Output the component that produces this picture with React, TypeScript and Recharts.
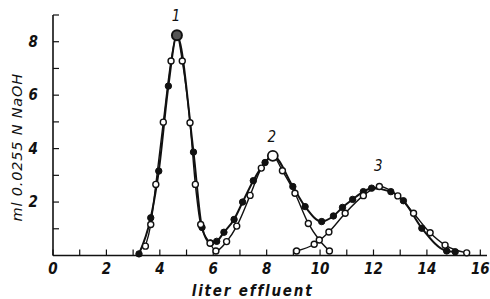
import { LineChart, Line, XAxis, YAxis } from 'recharts';

// liters of effluent vs ml 0.0255 N NaOH
const xTicks = [0, 1, 2, 3, 4, 5, 6, 7, 8, 9, 10, 11, 12, 13, 14, 15, 16];
const yTicks = [1, 2, 3, 4, 5, 6, 7, 8, 9];

// filled circles: measured elution curve
const filledRun = [
  { x: 3.22, y: 0.06 }, { x: 3.66, y: 1.41 }, { x: 3.96, y: 3.16 }, { x: 4.32, y: 6.34 },
  { x: 4.64, y: 8.24 }, { x: 5.26, y: 3.87 }, { x: 5.58, y: 1.05 }, { x: 5.9, y: 0.47 },
  { x: 6.13, y: 0.53 }, { x: 6.4, y: 0.87 }, { x: 6.78, y: 1.35 }, { x: 7.1, y: 2.0 },
  { x: 7.5, y: 2.8 }, { x: 7.94, y: 3.48 }, { x: 8.23, y: 3.73 }, { x: 8.98, y: 2.58 },
  { x: 9.44, y: 1.83 }, { x: 10.06, y: 1.27 }, { x: 10.5, y: 1.48 }, { x: 10.84, y: 1.8 },
  { x: 11.22, y: 2.1 }, { x: 11.62, y: 2.39 }, { x: 11.93, y: 2.52 }, { x: 12.65, y: 2.39 },
  { x: 13.12, y: 2.05 }, { x: 13.81, y: 1.02 }, { x: 14.74, y: 0.17 }, { x: 15.06, y: 0.14 },
];

// open circles: peaks 1 and 2
const openRun = [
  { x: 3.46, y: 0.35 }, { x: 3.66, y: 1.16 }, { x: 3.85, y: 2.66 }, { x: 4.13, y: 4.99 },
  { x: 4.42, y: 7.28 }, { x: 4.64, y: 8.24 }, { x: 4.84, y: 7.28 }, { x: 5.13, y: 4.97 },
  { x: 5.33, y: 2.66 }, { x: 5.53, y: 1.16 }, { x: 5.88, y: 0.46 }, { x: 6.1, y: 0.17 },
  { x: 6.5, y: 0.52 }, { x: 6.88, y: 1.1 }, { x: 7.38, y: 2.25 }, { x: 7.8, y: 3.27 },
  { x: 8.23, y: 3.73 }, { x: 8.59, y: 3.17 }, { x: 9.06, y: 2.33 }, { x: 9.56, y: 1.2 },
  { x: 9.97, y: 0.58 }, { x: 10.35, y: 0.17 },
];

// open circles: peak 3
const openPeak3 = [
  { x: 9.12, y: 0.17 }, { x: 9.78, y: 0.42 }, { x: 10.33, y: 0.88 }, { x: 10.94, y: 1.58 },
  { x: 11.62, y: 2.24 }, { x: 12.22, y: 2.58 }, { x: 12.91, y: 2.23 }, { x: 13.5, y: 1.58 },
  { x: 14.12, y: 0.85 }, { x: 14.68, y: 0.39 }, { x: 15.49, y: 0.1 },
];

const peakNames = ['1', '2', '3'];

const font = "'DejaVu Sans Condensed', 'DejaVu Sans', sans-serif";
const labelFont = "'DejaVu Sans', sans-serif";
const ink = '#111';

function peakIndex(data: { x: number; y: number }[], fromX = -Infinity) {
  let best = -1;
  data.forEach((d, i) => {
    if (d.x >= fromX && (best < 0 || d.y > data[best].y)) best = i;
  });
  return best;
}

const filledPeak = peakIndex(filledRun);
const openPeak2 = peakIndex(openRun, 7);
const openPeak1 = peakIndex(openRun);
const peak3 = peakIndex(openPeak3);

function peakLabel(cx: number, cy: number, text: string) {
  return (
    <text x={cx - 1} y={cy - 14} textAnchor="middle" fontFamily={font} fontStyle="italic" fontSize={15} fill={ink}>
      {text}
    </text>
  );
}

function FilledDot(props: any) {
  const { cx, cy, index } = props;
  if (index === filledPeak) {
    return (
      <g key={`f${index}`}>
        <circle cx={cx} cy={cy} r={5} fill="#555" stroke={ink} strokeWidth={2} />
        {peakLabel(cx, cy, peakNames[0])}
      </g>
    );
  }
  return <circle key={`f${index}`} cx={cx} cy={cy} r={3.2} fill={ink} stroke={ink} strokeWidth={1} />;
}

function OpenDot(props: any) {
  const { cx, cy, index } = props;
  if (index === openPeak1) return <g key={`o${index}`} />;
  if (index === openPeak2) {
    return (
      <g key={`o${index}`}>
        <circle cx={cx} cy={cy} r={5} fill="#fff" stroke={ink} strokeWidth={1.8} />
        {peakLabel(cx, cy, peakNames[1])}
      </g>
    );
  }
  return <circle key={`o${index}`} cx={cx} cy={cy} r={3} fill="#fff" stroke={ink} strokeWidth={1.4} />;
}

function Peak3Dot(props: any) {
  const { cx, cy, index } = props;
  return (
    <g key={`p${index}`}>
      <circle cx={cx} cy={cy} r={3} fill="#fff" stroke={ink} strokeWidth={1.4} />
      {index === peak3 ? peakLabel(cx, cy - 2, peakNames[2]) : null}
    </g>
  );
}

const tickStyle = { fill: ink, fontSize: 15, fontStyle: 'italic', fontWeight: 'bold', fontFamily: font };

export default function App() {
  return (
    <div style={{ position: 'absolute', left: 0, top: 0, width: 490, height: 299, background: '#fff' }}>
      <LineChart width={490} height={299} margin={{ top: 15, right: 3, bottom: 0, left: 0 }}>
        <XAxis
          type="number"
          dataKey="x"
          domain={[0, 16.25]}
          ticks={xTicks}
          interval={0}
          allowDataOverflow
          height={43.5}
          tickSize={-6}
          tickMargin={13.5}
          tickFormatter={(v: number) => (v % 2 === 0 ? String(v) : '')}
          tick={tickStyle}
          axisLine={{ stroke: ink, strokeWidth: 1.6 }}
          tickLine={{ stroke: ink, strokeWidth: 1.2 }}
          label={{
            content: ({ viewBox }: any) => (
              <text
                x={viewBox.x + viewBox.width * 0.46}
                y={296}
                textAnchor="middle"
                fontFamily={font}
                fontStyle="italic"
                fontWeight="bold"
                fontSize={15}
                letterSpacing={1.8}
                fill={ink}
              >
                liter effluent
              </text>
            ),
          }}
        />
        <YAxis
          type="number"
          domain={[0, 9]}
          ticks={yTicks}
          interval={0}
          width={53}
          tickSize={-6}
          tickMargin={21}
          tickFormatter={(v: number) => (v % 2 === 0 ? String(v) : '')}
          tick={tickStyle}
          axisLine={{ stroke: ink, strokeWidth: 1.6 }}
          tickLine={{ stroke: ink, strokeWidth: 1.2 }}
          label={{
            content: ({ viewBox }: any) => (
              <text
                x={17}
                y={viewBox.y + viewBox.height / 2 + 12}
                transform={`rotate(-90 17 ${viewBox.y + viewBox.height / 2 + 12})`}
                textAnchor="middle"
                dominantBaseline="central"
                fontFamily={labelFont}
                fontStyle="italic"
                fontSize={14.5}
                letterSpacing={0.8}
                fill={ink}
              >
                ml 0.0255 N NaOH
              </text>
            ),
          }}
        />
        <Line data={filledRun} dataKey="y" type="monotone" stroke={ink} strokeWidth={2} dot={FilledDot} activeDot={false} isAnimationActive={false} />
        <Line data={openPeak3} dataKey="y" type="monotone" stroke={ink} strokeWidth={1.4} dot={Peak3Dot} activeDot={false} isAnimationActive={false} />
        <Line data={openRun} dataKey="y" type="monotone" stroke={ink} strokeWidth={1.4} dot={OpenDot} activeDot={false} isAnimationActive={false} />
      </LineChart>
    </div>
  );
}
